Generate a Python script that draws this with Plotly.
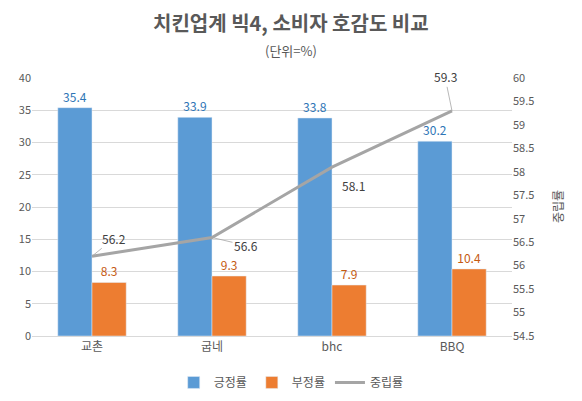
import plotly.graph_objects as go

brands = ["교촌", "굽네", "bhc", "BBQ"]
positive = [35.4, 33.9, 33.8, 30.2]
negative = [8.3, 9.3, 7.9, 10.4]
neutral = [56.2, 56.6, 58.1, 59.3]
# pixel offsets of the line labels (leader lines)
label_ax = [22, 34, 21, -7]
label_ay = [-18, 8, 18, -34]

FONT = "Noto Sans CJK KR"
GREY_TXT = "#595959"

fig = go.Figure()

fig.add_trace(go.Bar(
    x=brands, y=positive, name="긍정률",
    marker=dict(color="#5B9BD5"),
    text=[str(v) for v in positive], textposition="outside",
    textfont=dict(color="#2E75B6", size=12), cliponaxis=False,
))
fig.add_trace(go.Bar(
    x=brands, y=negative, name="부정률",
    marker=dict(color="#ED7D31"),
    text=[str(v) for v in negative], textposition="outside",
    textfont=dict(color="#C55A11", size=12), cliponaxis=False,
))
fig.add_trace(go.Scatter(
    x=brands, y=neutral, name="중립률", yaxis="y2",
    mode="lines", line=dict(color="#A5A5A5", width=3),
))

# line data labels with leader lines
for b, v, ax, ay in zip(brands, neutral, label_ax, label_ay):
    fig.add_annotation(
        x=b, y=v, xref="x", yref="y2", text=str(v),
        showarrow=True, arrowhead=0, arrowwidth=0.8, arrowcolor="#A6A6A6",
        ax=ax, ay=ay, font=dict(color="#404040", size=12),
    )

fig.add_annotation(
    text="치킨업계 빅4, 소비자 호감도 비교", xref="paper", yref="paper",
    x=0.54, y=1.0, yshift=56, yanchor="middle", xanchor="center", showarrow=False,
    font=dict(size=20, color=GREY_TXT, family=FONT, weight="bold"),
)
fig.add_annotation(
    text="(단위=%)", xref="paper", yref="paper",
    x=0.54, y=1.0, yshift=28, yanchor="middle", xanchor="center", showarrow=False,
    font=dict(size=13, color=GREY_TXT),
)
fig.add_annotation(
    text="중립률", xref="paper", yref="paper", textangle=-90,
    x=1.0, xshift=45, y=0.5, xanchor="center", yanchor="middle", showarrow=False,
    font=dict(size=12, color=GREY_TXT),
)

fig.update_layout(
    width=582, height=401,
    margin=dict(l=32, r=70, t=78, b=65, autoexpand=False),
    paper_bgcolor="white", plot_bgcolor="white",
    font=dict(family=FONT, color=GREY_TXT, size=11),
    barmode="group", bargap=0.43, bargroupgap=0,
    showlegend=True,
    legend=dict(orientation="h", x=0.54, xanchor="center", y=-0.18, yanchor="middle",
                font=dict(size=12, color=GREY_TXT), traceorder="normal"),
    xaxis=dict(showgrid=False, showline=True, linecolor="#D9D9D9", ticks="",
               tickfont=dict(size=12)),
    yaxis=dict(range=[0, 40], dtick=5, showgrid=True, gridcolor="#D9D9D9",
               zeroline=False, ticks="", tickfont=dict(size=11)),
    yaxis2=dict(range=[54.5, 60], dtick=0.5, overlaying="y", side="right",
                showgrid=False, zeroline=False, ticks="", tickfont=dict(size=11)),
)

fig.write_html("out.html", config={"displayModeBar": False},
               post_script="document.body.style.margin='0';")
